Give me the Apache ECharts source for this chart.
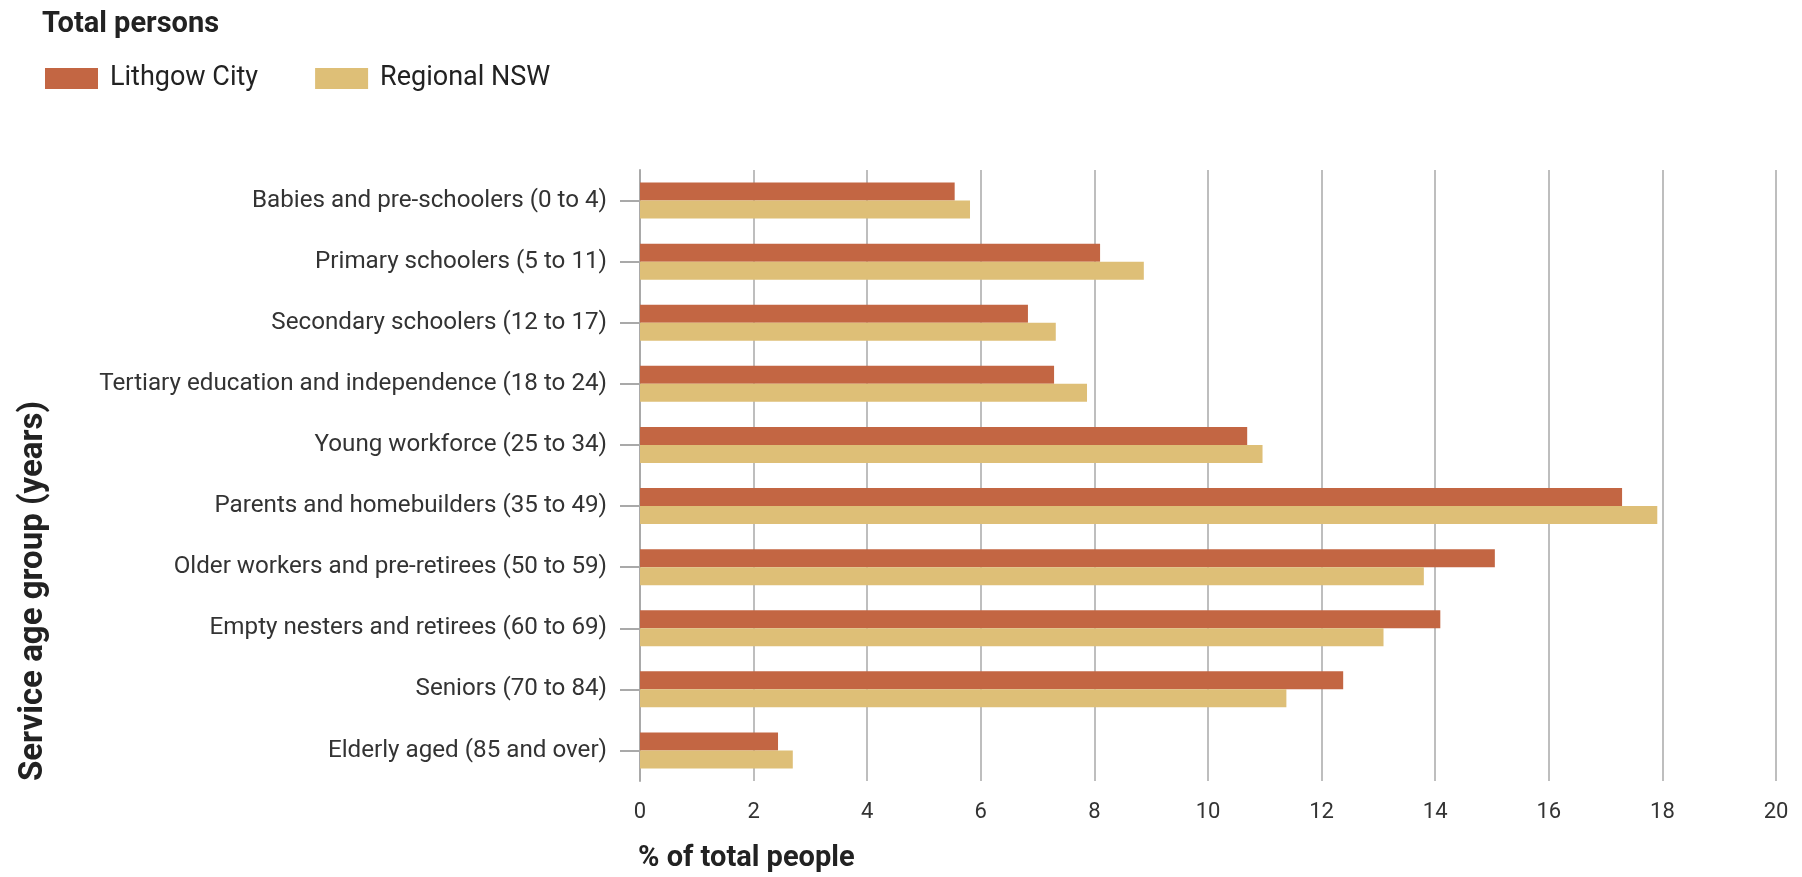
<!DOCTYPE html>
<html>
<head>
<meta charset="utf-8">
<script src="https://cdn.jsdelivr.net/npm/echarts@6/dist/echarts.min.js"></script>
<style>
html,body{margin:0;padding:0;background:#fff;}
#chart{width:1802px;height:877px;}
</style>
</head>
<body>
<div id="chart"></div>
<script>
const categories = [
  "Babies and pre-schoolers (0 to 4)",
  "Primary schoolers (5 to 11)",
  "Secondary schoolers (12 to 17)",
  "Tertiary education and independence (18 to 24)",
  "Young workforce (25 to 34)",
  "Parents and homebuilders (35 to 49)",
  "Older workers and pre-retirees (50 to 59)",
  "Empty nesters and retirees (60 to 69)",
  "Seniors (70 to 84)",
  "Elderly aged (85 and over)"
];
const lithgowCity = [5.54, 8.10, 6.83, 7.29, 10.69, 17.29, 15.05, 14.09, 12.38, 2.43];
const regionalNSW = [5.81, 8.87, 7.32, 7.87, 10.96, 17.91, 13.80, 13.09, 11.38, 2.69];
const xTicks = [0, 2, 4, 6, 8, 10, 12, 14, 16, 18, 20];

const chart = echarts.init(document.getElementById('chart'), null, {renderer: 'canvas'});
const FONT = 'Roboto';
chart.setOption({
  animation: false,
  backgroundColor: '#ffffff',
  title: {
    text: 'Total persons',
    left: 37, top: 5,
    textStyle: {fontFamily: FONT, fontWeight: 'bold', fontSize: 29, color: '#222'}
  },
  legend: {
    left: 40, top: 60,
    icon: 'rect',
    itemWidth: 53, itemHeight: 21,
    itemGap: 57,
    textStyle: {fontFamily: FONT, fontSize: 27, color: '#222', padding: [0, 0, 0, 7]},
    data: ['Lithgow City', 'Regional NSW']
  },
  grid: {left: 640, right: 26, top: 170, bottom: 96, containLabel: false},
  xAxis: {
    type: 'value',
    min: xTicks[0], max: xTicks[xTicks.length - 1], interval: xTicks[1] - xTicks[0],
    axisLine: {show: false},
    axisTick: {show: false},
    splitLine: {show: true, lineStyle: {color: '#a9a9a9', width: 1.5}},
    axisLabel: {fontFamily: FONT, fontSize: 22, color: '#333', margin: 20}
  },
  yAxis: {
    type: 'category',
    inverse: true,
    data: categories,
    axisLine: {show: true, lineStyle: {color: '#a9a9a9', width: 2}},
    axisTick: {show: true, alignWithLabel: true, length: 20, lineStyle: {color: '#a9a9a9', width: 2}},
    axisLabel: {fontFamily: FONT, fontSize: 24.2, color: '#333', margin: 33}
  },
  graphic: [
    {
      type: 'text',
      x: 34, y: 591,
      rotation: Math.PI / 2,
      style: {
        text: 'Service age group (years)',
        fontFamily: FONT, fontWeight: 'bold', fontSize: 33, fill: '#222',
        textAlign: 'center', textVerticalAlign: 'middle'
      }
    },
    {
      type: 'text',
      x: 638, y: 859,
      style: {
        text: '% of total people',
        fontFamily: FONT, fontWeight: 'bold', fontSize: 29, fill: '#222',
        textAlign: 'left', textVerticalAlign: 'middle'
      }
    }
  ],
  series: [
    {
      name: 'Lithgow City', type: 'bar', data: lithgowCity,
      barWidth: 18, barGap: '0%',
      itemStyle: {color: '#C36643'}
    },
    {
      name: 'Regional NSW', type: 'bar', data: regionalNSW,
      barWidth: 18, barGap: '0%',
      itemStyle: {color: '#DEBF77'}
    }
  ]
});
</script>
</body>
</html>
